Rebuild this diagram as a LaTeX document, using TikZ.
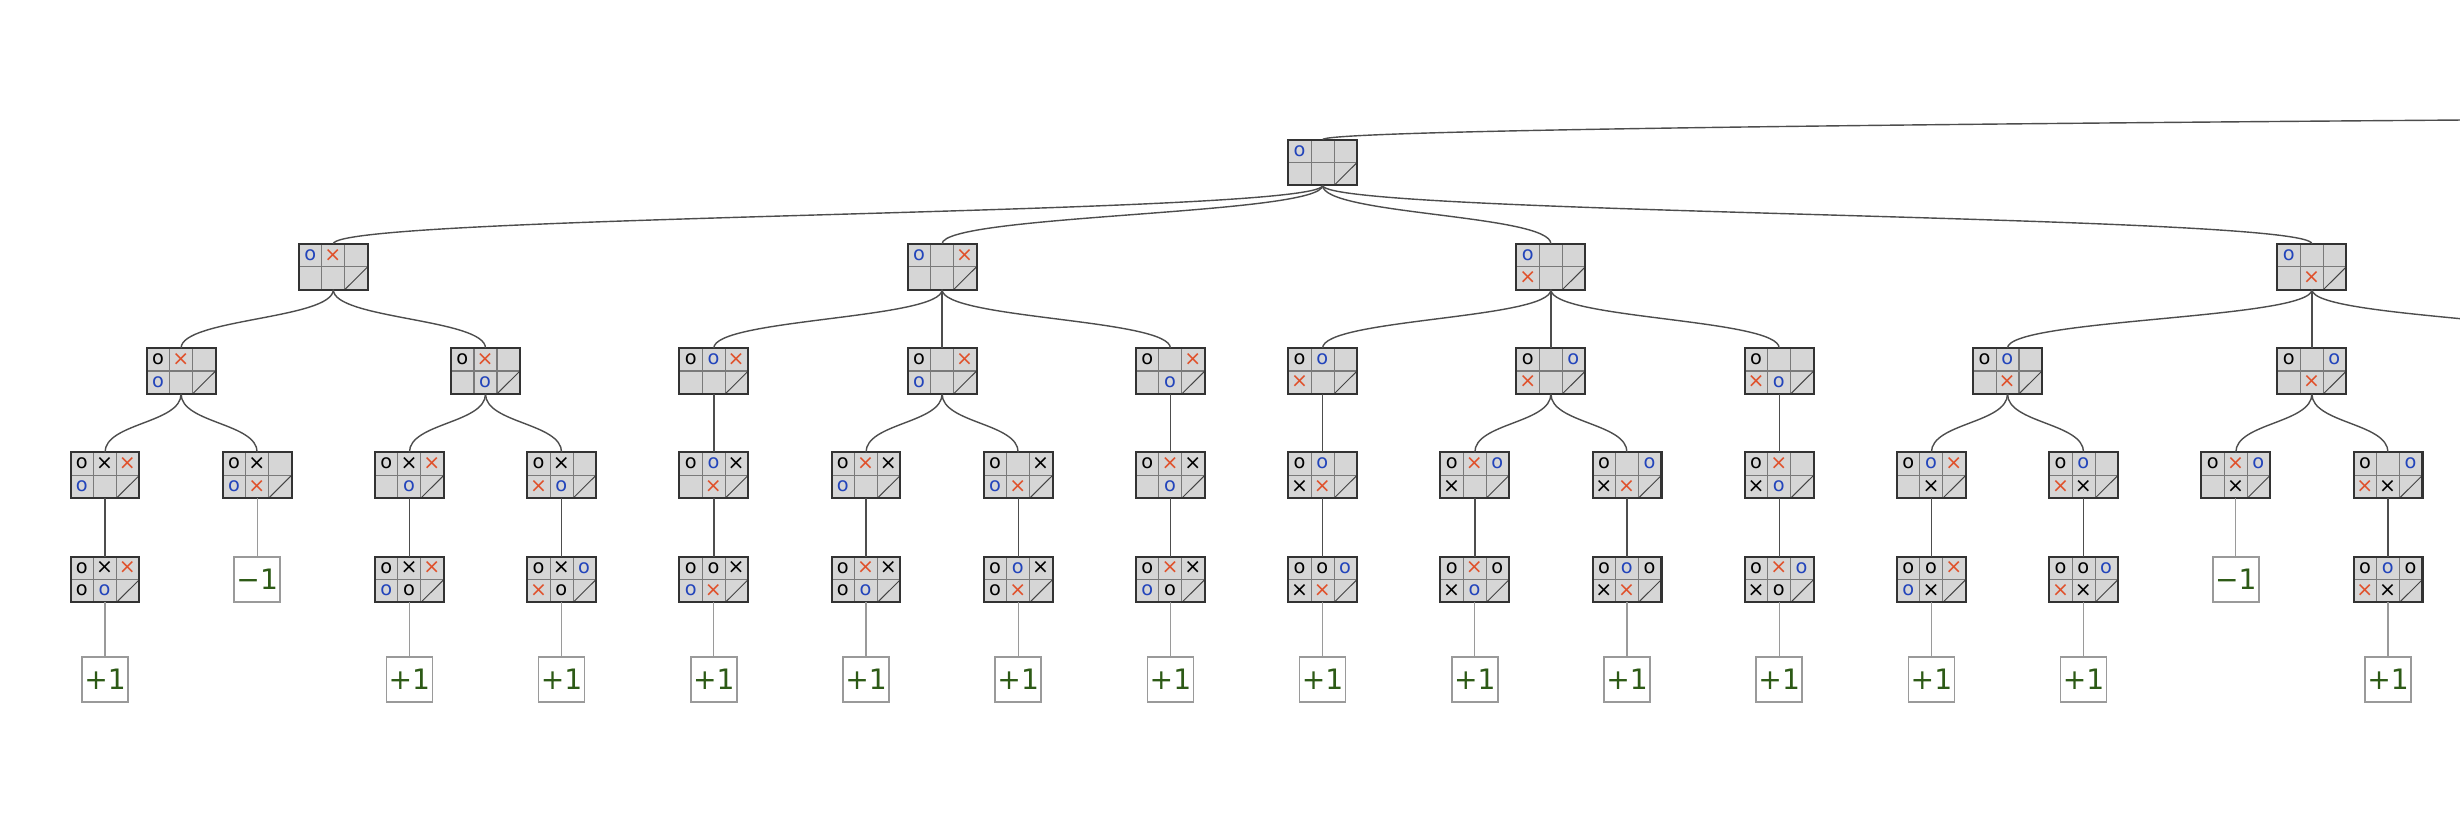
\documentclass[tikz,border=0pt]{standalone}
\usepackage{fontspec}
\setmainfont{DejaVu Sans}
\usepackage{xcolor}
\usepackage{tikz}
\usetikzlibrary{calc}

\definecolor{boardgray}{HTML}{D6D6D6}
\definecolor{boarddark}{HTML}{333333}
\definecolor{cellgray}{HTML}{7A7A7A}
\definecolor{slashgray}{HTML}{444444}
\definecolor{treegray}{HTML}{4D4D4D}
\definecolor{leafgray}{HTML}{9A9A9A}
\definecolor{oblue}{HTML}{2244BB}
\definecolor{xred}{HTML}{E0502A}
\definecolor{scoregreen}{HTML}{2D5A16}

% cell contents: o/x older move, O/X latest move, n empty
\newcommand{\mrkn}{}
\newcommand{\mrko}{o}
\newcommand{\mrkx}{{\fontsize{11.5}{12}\selectfont ×}}
\newcommand{\mrkO}{\textcolor{oblue}{o}}
\newcommand{\mrkX}{\textcolor{xred}{\fontsize{11.5}{12}\selectfont ×}}

% board: name, position, five cells (last cell is crossed out)
\newcommand{\board}[3]{%
  \node[board] (#1) at (#2) {};
  \draw[cellrule] ($(#1.north west)!1/3!(#1.north east)$) -- ($(#1.south west)!1/3!(#1.south east)$);
  \draw[cellrule] ($(#1.north west)!2/3!(#1.north east)$) -- ($(#1.south west)!2/3!(#1.south east)$);
  \draw[cellrule] (#1.west) -- (#1.east);
  \draw[slash] ($(#1.south west)!2/3!(#1.south east)$) -- (#1.east);
  \draw[boardedge] (#1.north west) rectangle (#1.south east);
  \foreach \m [count=\k from 0] in {#3} {
    \pgfmathtruncatemacro{\cc}{mod(\k,3)}
    \pgfmathtruncatemacro{\rr}{floor(\k/3)}
    \node[sign] at ([xshift={(\cc+0.5)*0.455cm},yshift={-(\rr+0.5)*0.45cm}]#1.north west) {\csname mrk\m\endcsname};
  }
}

\begin{document}
\begin{tikzpicture}[x=3.044cm,y=2.085cm,
  board/.style={fill=boardgray,minimum width=1.365cm,minimum height=0.9cm,inner sep=0pt},
  boardedge/.style={draw=boarddark,line width=1.15pt},
  cellrule/.style={draw=cellgray,line width=0.6pt},
  slash/.style={draw=slashgray,line width=0.55pt},
  sign/.style={inner sep=0pt,font=\fontsize{11}{12}\selectfont},
  score/.style={draw=leafgray,line width=0.85pt,fill=white,minimum width=0.92cm,minimum height=0.9cm,inner sep=0pt,text=scoregreen,font=\fontsize{16}{18}\selectfont},
  branch/.style={draw=treegray,line width=0.8pt,out=-90,in=90,distance=0.59cm},
  twig/.style={draw=leafgray,line width=0.75pt}]
\useasboundingbox (-2.1cm,3.25cm) rectangle (47.1cm,-13.45cm);
\clip (-2.1cm,3.25cm) rectangle (47.1cm,-13.45cm);

% Root position
\board{r}{8,0}{O,n,n,n,n}

% Replies of X
\board{a}{1.5,-1}{O,X,n,n,n}
\board{b}{5.5,-1}{O,n,X,n,n}
\board{c}{9.5,-1}{O,n,n,X,n}
\board{d}{14.5,-1}{O,n,n,n,X}

% Second move of O
\board{a1}{0.5,-2}{o,X,n,O,n}
\board{a2}{2.5,-2}{o,X,n,n,O}
\board{b1}{4,-2}{o,O,X,n,n}
\board{b2}{5.5,-2}{o,n,X,O,n}
\board{b3}{7,-2}{o,n,X,n,O}
\board{c1}{8,-2}{o,O,n,X,n}
\board{c2}{9.5,-2}{o,n,O,X,n}
\board{c3}{11,-2}{o,n,n,X,O}
\board{d1}{12.5,-2}{o,O,n,n,X}
\board{d2}{14.5,-2}{o,n,O,n,X}

% Second move of X
\board{t0}{0,-3}{o,x,X,O,n}
\board{t1}{1,-3}{o,x,n,O,X}
\board{t2}{2,-3}{o,x,X,n,O}
\board{t3}{3,-3}{o,x,n,X,O}
\board{t4}{4,-3}{o,O,x,n,X}
\board{t5}{5,-3}{o,X,x,O,n}
\board{t6}{6,-3}{o,n,x,O,X}
\board{t7}{7,-3}{o,X,x,n,O}
\board{t8}{8,-3}{o,O,n,x,X}
\board{t9}{9,-3}{o,X,O,x,n}
\board{t10}{10,-3}{o,n,O,x,X}
\board{t11}{11,-3}{o,X,n,x,O}
\board{t12}{12,-3}{o,O,X,n,x}
\board{t13}{13,-3}{o,O,n,X,x}
\board{t14}{14,-3}{o,X,O,n,x}
\board{t15}{15,-3}{o,n,O,X,x}

% Last move of O
\board{f0}{0,-4}{o,x,X,o,O}
\board{f2}{2,-4}{o,x,X,O,o}
\board{f3}{3,-4}{o,x,O,X,o}
\board{f4}{4,-4}{o,o,x,O,X}
\board{f5}{5,-4}{o,X,x,o,O}
\board{f6}{6,-4}{o,O,x,o,X}
\board{f7}{7,-4}{o,X,x,O,o}
\board{f8}{8,-4}{o,o,O,x,X}
\board{f9}{9,-4}{o,X,o,x,O}
\board{f10}{10,-4}{o,O,o,x,X}
\board{f11}{11,-4}{o,X,O,x,o}
\board{f12}{12,-4}{o,o,X,O,x}
\board{f13}{13,-4}{o,o,O,X,x}
\board{f15}{15,-4}{o,O,o,X,x}

% Scores
\node[score] (v1) at (1,-4) {−1};
\node[score] (v14) at (14,-4) {−1};
\foreach \i in {0,2,3,...,13,15}
  \node[score] (w\i) at (\i,-4.96) {+1};

% Branches that leave the picture
\coordinate (up) at ([yshift=-0.45cm]44.8,1);
\coordinate (d3) at ([yshift=0.45cm]16.5,-2);
\draw[branch] (up) .. controls ([yshift=-0.59cm]up) and ([yshift=0.59cm]r.north) .. (r.north);
\draw[branch] (d.south) to (d3);

% Branches between boards
\foreach \p/\q in {r/a,r/b,r/c,r/d,a/a1,a/a2,b/b1,b/b2,b/b3,c/c1,c/c2,c/c3,d/d1,d/d2,
  a1/t0,a1/t1,a2/t2,a2/t3,b2/t5,b2/t6,c2/t9,c2/t10,d1/t12,d1/t13,d2/t14,d2/t15}
  \draw[branch] (\p.south) to (\q.north);
\foreach \p/\q in {b1/t4,b3/t7,c1/t8,c3/t11}
  \draw[branch] (\p.south) -- (\q.north);
\foreach \i in {0,2,3,...,13,15}
  \draw[branch] (t\i.south) -- (f\i.north);

% Lines to the scores
\draw[twig] (t1.south) -- (v1.north);
\draw[twig] (t14.south) -- (v14.north);
\foreach \i in {0,2,3,...,13,15}
  \draw[twig] (f\i.south) -- (w\i.north);
\end{tikzpicture}
\end{document}
